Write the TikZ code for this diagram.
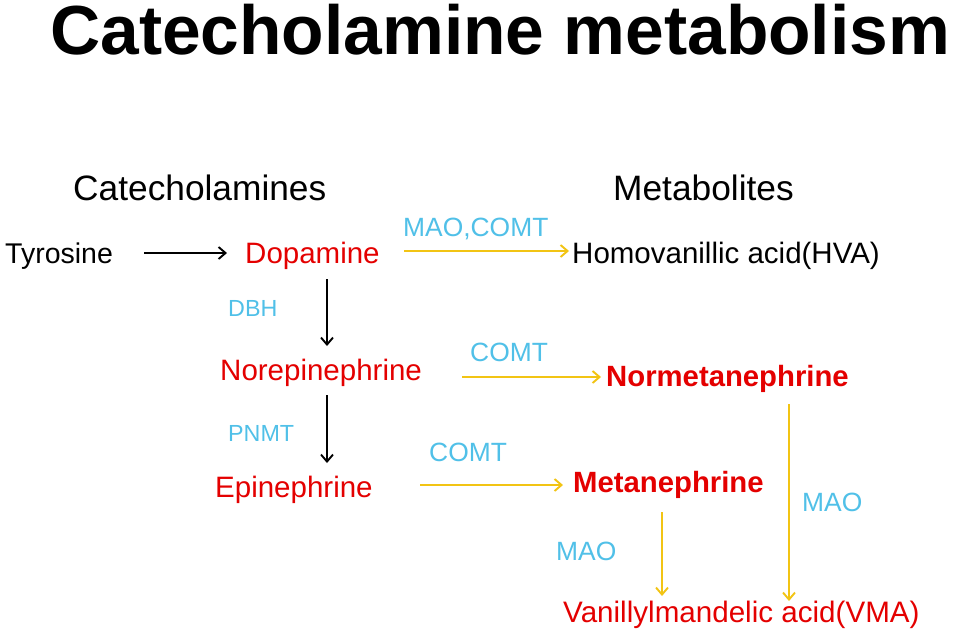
\documentclass[tikz,border=0pt]{standalone}
\usepackage{fontspec}
\setmainfont{Liberation Sans}
\usetikzlibrary{arrows.meta}
\definecolor{chemred}{RGB}{228,0,0}
\definecolor{enzblue}{RGB}{80,192,232}
\definecolor{arrowyellow}{RGB}{242,196,20}
\tikzset{
  lbl/.style={inner sep=0pt, anchor=base west},
  fsz/.style={font=\fontsize{#1}{#1}\selectfont},
  fszb/.style={font=\fontsize{#1}{#1}\selectfont\bfseries},
  enz/.style={lbl, text=enzblue},
  chem/.style={lbl, text=chemred},
  blackarrow/.style={draw=black, line width=1.9pt, -{Straight Barb[length=7pt,width=12pt,line width=1.9pt]}},
  yellowarrow/.style={draw=arrowyellow, line width=1.9pt, -{Straight Barb[length=7pt,width=12pt,line width=1.9pt]}}
}
\begin{document}
\begin{tikzpicture}[x=1pt,y=-1pt]
\useasboundingbox (0,0) rectangle (960,635);
\fill[white] (0,0) rectangle (960,635);
% title and headers
\node[lbl, fszb=69.5] (title) at (50,54) {Catecholamine metabolism};
\node[lbl, fsz=35.3] (cat) at (73,200) {Catecholamines};
\node[lbl, fsz=35.3] (met) at (613,200) {Metabolites};
% compounds
\node[lbl, fsz=28.5] (tyr) at (5,263) {Tyrosine};
\node[chem, fsz=29.5] (dop) at (245,263) {Dopamine};
\node[lbl, fsz=29.5] (hva) at (572,263) {Homovanillic acid(HVA)};
\node[chem, fsz=29.5] (nor) at (220,380) {Norepinephrine};
\node[chem, fszb=29.3] (nmn) at (606,386) {Normetanephrine};
\node[chem, fsz=29.5] (epi) at (215,497) {Epinephrine};
\node[chem, fszb=29.3] (mn) at (573,492) {Metanephrine};
\node[chem, fsz=29.6] (vma) at (563,622) {Vanillylmandelic acid(VMA)};
% enzymes
\node[enz, fsz=26.4] (e1) at (403,236) {MAO,COMT};
\node[enz, fsz=23.3] (e2) at (228,316) {DBH};
\node[enz, fsz=26.4] (e3) at (470,361) {COMT};
\node[enz, fsz=23.3] (e4) at (228,441) {PNMT};
\node[enz, fsz=26.4] (e5) at (429,461) {COMT};
\node[enz, fsz=26.4] (e6) at (802,511) {MAO};
\node[enz, fsz=26.4] (e7) at (556,560) {MAO};
% arrow end points
\coordinate (a1s) at (144,253); \coordinate (a1e) at (227,253);
\coordinate (a2s) at (404,251); \coordinate (a2e) at (569,251);
\coordinate (a3s) at (327,279); \coordinate (a3e) at (327,346);
\coordinate (a4s) at (462,377); \coordinate (a4e) at (601,377);
\coordinate (a5s) at (327,395); \coordinate (a5e) at (327,463);
\coordinate (a6s) at (420,485); \coordinate (a6e) at (563,485);
\coordinate (a7s) at (662,512); \coordinate (a7e) at (662,596);
\coordinate (a8s) at (789,404); \coordinate (a8e) at (789,601);
% arrows
\draw[blackarrow] (a1s) -- (a1e);
\draw[yellowarrow] (a2s) -- (a2e);
\draw[blackarrow] (a3s) -- (a3e);
\draw[yellowarrow] (a4s) -- (a4e);
\draw[blackarrow] (a5s) -- (a5e);
\draw[yellowarrow] (a6s) -- (a6e);
\draw[yellowarrow] (a7s) -- (a7e);
\draw[yellowarrow] (a8s) -- (a8e);
\end{tikzpicture}
\end{document}
